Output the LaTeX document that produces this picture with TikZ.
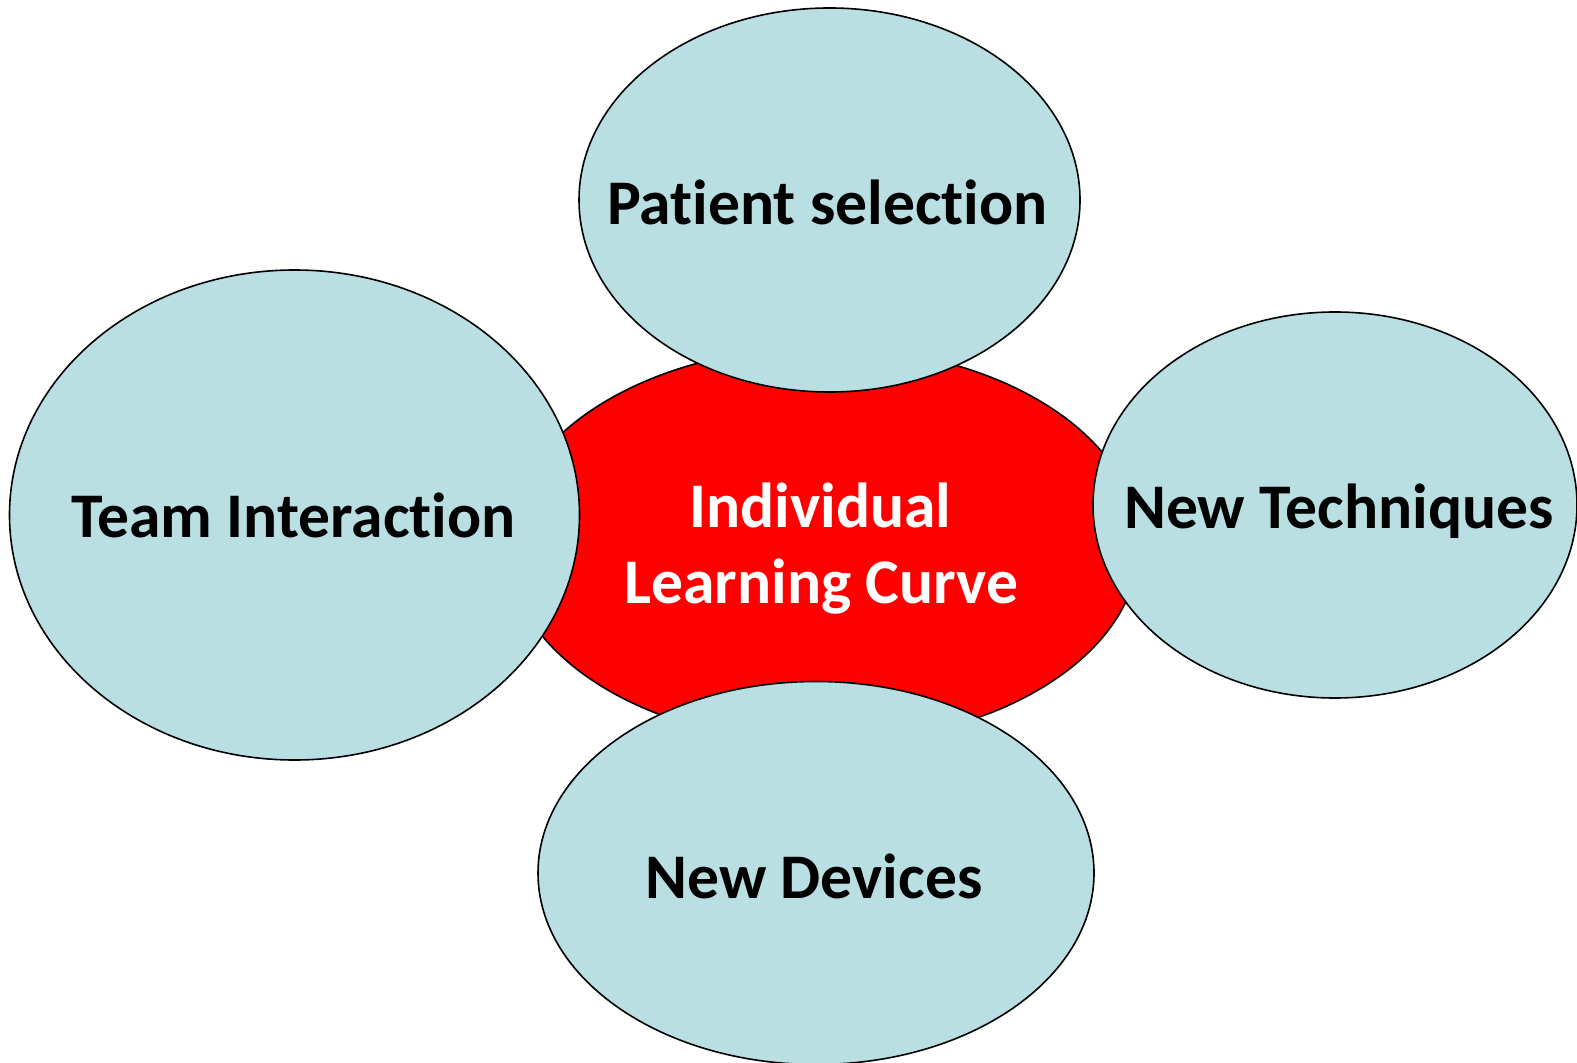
\documentclass[tikz,border=0pt]{standalone}
\usepackage{fontspec}
\setmainfont[Ligatures=NoCommon]{Carlito}
\usetikzlibrary{shapes.geometric}
\definecolor{bubble}{RGB}{185,223,226}
\begin{document}
\begin{tikzpicture}[x=0.5pt, y=-0.5pt,
  bubble/.style={ellipse, draw, line width=0.8pt, fill=bubble, inner sep=0pt},
  core/.style={ellipse, draw, line width=0.8pt, fill=red, inner sep=0pt},
  word/.style={inner sep=0pt, anchor=base, font=\fontsize{31.8}{38}\selectfont\bfseries}]
\useasboundingbox (0,0) rectangle (1577,1063);
\node[core, minimum width=316pt, minimum height=198pt] (curve) at (823,545){};
\node[word, text=white] (curvetxt1) at (820.5,527){Individual};
\node[word, text=white] (curvetxt2) at (821.5,603){Learning Curve};
\node[bubble, minimum width=250.5pt, minimum height=192pt] (patient) at (829.5,200){};
\node[word] (patienttxt) at (827.5,225){Patient selection};
\node[bubble, minimum width=285pt, minimum height=245pt] (team) at (294.5,515){};
\node[word] (teamtxt) at (293.5,537){Team Interaction};
\node[bubble, minimum width=242pt, minimum height=193pt] (tech) at (1335,505){};
\node[word] (techtxt) at (1339,528){New Techniques};
\node[bubble, minimum width=278pt, minimum height=191.5pt] (devices) at (816,873){};
\node[word] (devicestxt) at (814,898){New Devices};
\end{tikzpicture}
\end{document}
